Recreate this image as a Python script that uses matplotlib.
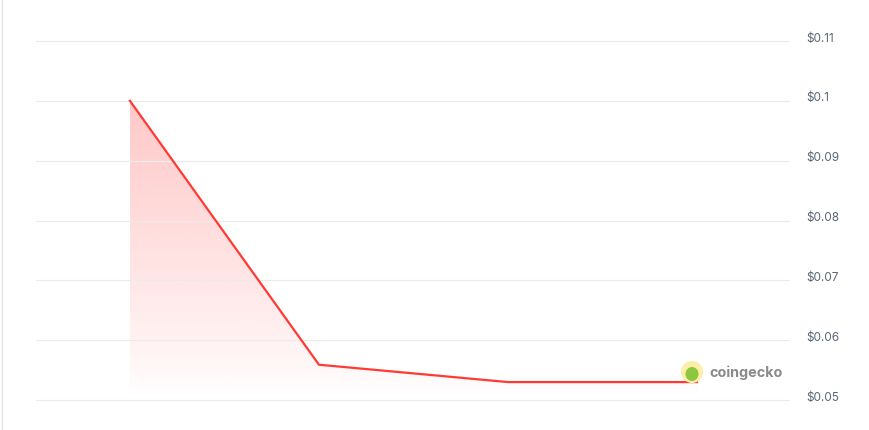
import matplotlib.pyplot as plt
import matplotlib.transforms as mtransforms
import numpy as np
from matplotlib.patches import Polygon, Ellipse

# price data (USD)
steps = [0, 1, 2, 3]
prices = [0.1, 0.0559, 0.0530, 0.0530]
tick_vals = [0.05, 0.06, 0.07, 0.08, 0.09, 0.1, 0.11]
tick_labels = ['$0.05', '$0.06', '$0.07', '$0.08', '$0.09', '$0.1', '$0.11']

plt.rcParams['font.family'] = ['Inter', 'DejaVu Sans']

fig = plt.figure(figsize=(8.69, 4.31), dpi=100)
ax = fig.add_axes([36 / 869, 0, (790 - 36) / 869, 1])

ax.set_xlim(-0.497, 3.492)
ax.set_ylim(0.04499, 0.11702)

# gradient fill under the line
base = 0.0505
verts = [(steps[0], base)] + list(zip(steps, prices)) + [(steps[-1], base)]
poly = Polygon(verts, closed=True, facecolor='none', edgecolor='none')
ax.add_patch(poly)
grad = np.linspace(0, 1, 256)  # 0 at bottom, 1 at top
rgba = np.zeros((256, 1, 4))
rgba[..., 0] = 1.0
rgba[..., 1] = 0.2
rgba[..., 2] = 0.2
rgba[:, 0, 3] = 0.27 * grad ** 0.85
img = ax.imshow(rgba, extent=[steps[0], steps[-1], base, max(prices)],
                aspect='auto', origin='lower', zorder=1, interpolation='bilinear')
img.set_clip_path(poly)

ax.plot(steps, prices, color='#ff3a33', lw=1.6, zorder=3, solid_joinstyle='miter')

ax.set_yticks(tick_vals)
ax.set_yticklabels(tick_labels)
ax.yaxis.tick_right()
ax.tick_params(axis='y', length=0, pad=16 * 0.72, labelsize=8.5, labelcolor='#5b6673')
shift = mtransforms.ScaledTranslation(0, 5 / 100, fig.dpi_scale_trans)
for lab in ax.get_yticklabels():
    lab.set_transform(lab.get_transform() + shift)
ax.set_xticks([])
ax.grid(axis='y', color='#ebebeb', lw=0.8)
for s in ax.spines.values():
    s.set_visible(False)

# left border of the card
fig.add_artist(plt.Line2D([1.5 / 869, 1.5 / 869], [0, 1], color='#e6e6e6', lw=1))

# coingecko watermark
fig.add_artist(Ellipse((692 / 869, 1 - 373 / 431), 22 / 869, 22 / 431,
                       facecolor='#fbeea5', edgecolor='none'))
fig.add_artist(Ellipse((692 / 869, 1 - 375 / 431), 13 / 869, 14 / 431,
                       facecolor='#8dc63f', edgecolor='none'))
fig.text(709 / 869, 1 - 373 / 431, 'coingecko', fontsize=10.3, fontweight='bold',
         color='#8a8a8a', va='center', ha='left')

fig.savefig('out.png', dpi=100)
